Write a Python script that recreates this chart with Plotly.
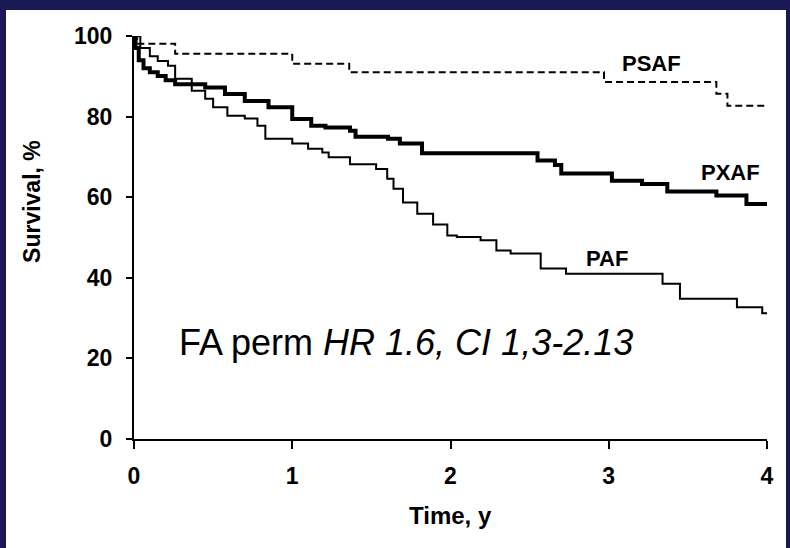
import plotly.graph_objects as go

# Kaplan-Meier survival curves (time in years, survival %)
psaf_t = [0, 0.02, 0.26, 1.0, 1.36, 2.97, 3.68, 3.75, 4.0]
psaf_s = [100, 98.1, 95.6, 93.1, 91.0, 88.6, 85.7, 82.7, 82.7]

pxaf_t = [0, 0.01, 0.03, 0.06, 0.1, 0.15, 0.2, 0.26, 0.45, 0.575, 0.70, 0.85, 1.0,
          1.12, 1.21, 1.365, 1.40, 1.605, 1.68, 1.82, 2.55, 2.66, 2.70, 3.02, 3.21,
          3.37, 3.68, 3.87, 4.0]
pxaf_s = [100, 97, 94, 92, 91, 90.1, 89, 88, 87.2, 85.6, 83.9, 82.3, 79.4,
          77.7, 77.3, 76.5, 75, 74.5, 73.3, 70.9, 69.1, 68, 65.9, 64.1, 63.3,
          61.4, 60.4, 58.3, 58.3]

paf_t = [0, 0.04, 0.10, 0.15, 0.215, 0.26, 0.365, 0.45, 0.50, 0.59, 0.70, 0.78, 0.83,
         1.0, 1.10, 1.19, 1.23, 1.365, 1.53, 1.60, 1.64, 1.70, 1.79, 1.89, 1.98,
         2.04, 2.19, 2.29, 2.38, 2.57, 2.73, 3.34, 3.45, 3.81, 3.97, 4.0]
paf_s = [100, 97, 95, 93.8, 92.6, 89.4, 86.4, 84.4, 82.3, 80.2, 79.5, 77.7, 74.5,
         73.3, 72, 71.1, 69.9, 68.2, 67, 64.6, 62.1, 58.7, 55.9, 53.2, 50.5,
         50.1, 49.3, 46.8, 46, 42.3, 41, 38.5, 34.8, 32.7, 31.2, 31]

x_ticks = [0, 1, 2, 3, 4]
y_ticks = [0, 20, 40, 60, 80, 100]

curve_labels = ["PSAF", "PXAF", "PAF"]
label_x = [3.27, 3.77, 2.99]
label_y = [93.3, 66.2, 44.8]

fig = go.Figure()
fig.add_trace(go.Scatter(x=psaf_t, y=psaf_s, mode="lines", line_shape="hv",
                         line=dict(color="black", width=2, dash="7px,4px"),
                         cliponaxis=False, showlegend=False))
fig.add_trace(go.Scatter(x=paf_t, y=paf_s, mode="lines", line_shape="hv",
                         line=dict(color="black", width=2),
                         cliponaxis=False, showlegend=False))
fig.add_trace(go.Scatter(x=pxaf_t, y=pxaf_s, mode="lines", line_shape="hv",
                         line=dict(color="black", width=4),
                         cliponaxis=False, showlegend=False))

for txt, lx, ly in zip(curve_labels, label_x, label_y):
    fig.add_annotation(x=lx, y=ly, text=f"<b>{txt}</b>", showarrow=False,
                       font=dict(family="Liberation Sans, Arial", size=22, color="black"))

fig.add_annotation(x=1.72, y=24, xanchor="center",
                   text="FA perm <i>HR 1.6, CI 1,3-2.13</i>", showarrow=False,
                   font=dict(family="Liberation Sans, Arial", size=36, color="black"))

# axis titles
fig.add_annotation(xref="paper", yref="paper", x=0.5, y=-0.19, yanchor="middle",
                   text="<b>Time, y</b>", showarrow=False,
                   font=dict(family="Liberation Sans, Arial", size=24, color="black"))
fig.add_annotation(xref="paper", x=-0.16, y=59, textangle=-90, xanchor="center",
                   text="<b>Survival, %</b>", showarrow=False,
                   font=dict(family="Liberation Sans, Arial", size=23, color="black"))

# white panel on navy frame
fig.add_shape(type="rect", xref="paper", yref="paper", layer="below",
              x0=-128 / 633, x1=(786 - 134) / 633, y0=-109 / 403, y1=(439 - 10) / 403,
              fillcolor="white", line=dict(width=0))

tickfont = dict(family="Liberation Sans, Arial", size=23, color="black", weight="bold")
fig.update_xaxes(range=[0, 4], tickvals=x_ticks, ticktext=[str(v) for v in x_ticks],
                 showgrid=False, zeroline=False, showline=True, linecolor="black",
                 linewidth=2, ticks="outside", ticklen=8, tickwidth=2, tickcolor="black",
                 tickfont=tickfont, ticklabelstandoff=7)
fig.update_yaxes(range=[0, 100], tickvals=y_ticks, ticktext=[str(v) for v in y_ticks],
                 showgrid=False, zeroline=False, showline=True, linecolor="black",
                 linewidth=2, ticks="outside", ticklen=6, tickwidth=2, tickcolor="black",
                 tickfont=tickfont, ticklabelstandoff=9)

fig.update_layout(width=790, height=548, paper_bgcolor="#1b1856", plot_bgcolor="white",
                  margin=dict(l=134, r=23, t=36, b=109), showlegend=False)

fig.write_html("out.html")
